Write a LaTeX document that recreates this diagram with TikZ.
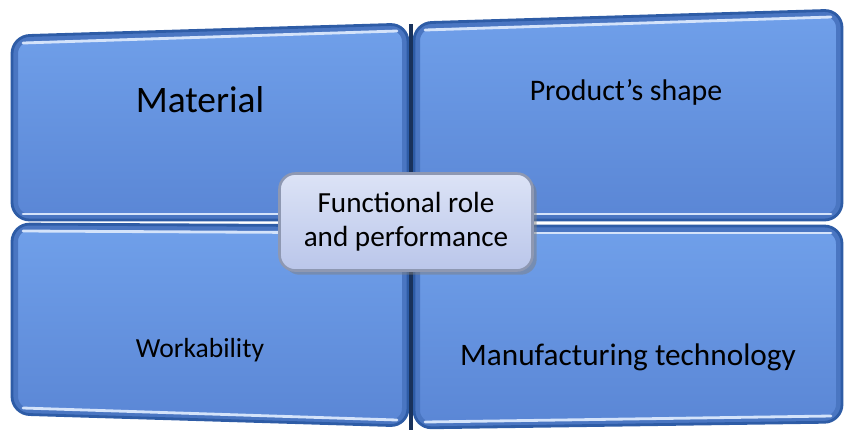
\documentclass[tikz,border=0pt]{standalone}
\usepackage{fontspec}
\setmainfont{Carlito}
\usetikzlibrary{calc,shadows}
\definecolor{boxlight}{HTML}{70A0EA}
\definecolor{boxdark}{HTML}{5A86D5}
\definecolor{boxband}{HTML}{4A76C2}
\definecolor{boxedge}{HTML}{2E5CA6}
\definecolor{boxshine}{HTML}{D4E3FA}
\definecolor{midlight}{HTML}{DCE3F6}
\definecolor{middark}{HTML}{BAC6EA}
\definecolor{midedge}{HTML}{8E98B2}
\tikzset{
	panel/.style={rounded corners=10pt, top color=boxlight, bottom color=boxdark},
	band/.style={draw=boxband, line width=12*0.02cm, rounded corners=10pt},
	rim/.style={draw=boxedge, line width=1.6pt, rounded corners=10pt},
	shine/.style={draw=boxshine, line width=1.6pt, line cap=round},
	lbl/.style={font=\fontsize{17}{20}\selectfont, text=black, align=center},
}
% one bevelled quarter: corners top left, top right, bottom right, bottom left
\newcommand{\quadpanel}[4]{
	\shade[panel] #1 -- #2 -- #3 -- #4 -- cycle;
	\begin{scope}
		\clip[rounded corners=10pt] #1 -- #2 -- #3 -- #4 -- cycle;
		\draw[band] #1 -- #2 -- #3 -- #4 -- cycle;
	\end{scope}
	\draw[shine] ($#1+(11,7)$) -- ($#2+(-11,7)$);
	\draw[shine] ($#4+(11,-6)$) -- ($#3+(-11,-6)$);
	\draw[rim] #1 -- #2 -- #3 -- #4 -- cycle;
}

\begin{document}
\begin{tikzpicture}[x=0.02cm,y=-0.02cm]
\useasboundingbox (0,0) rectangle (848,434);

% the four quarters
\quadpanel{(12,36)}{(408,24)}{(408,220)}{(12,220)}
\quadpanel{(414,23)}{(842,10)}{(842,220)}{(414,220)}
\quadpanel{(12,224)}{(408,226)}{(408,426)}{(12,414)}
\quadpanel{(414,226)}{(842,226)}{(842,422)}{(414,428)}
\draw[boxedge!55!black, line width=2.2pt] (411,24) -- (411,430);

% centre box
\node[draw=midedge, line width=1.5pt, rounded corners=9pt,
	top color=midlight, bottom color=middark, drop shadow,
	minimum width=253*0.02cm, minimum height=97*0.02cm, lbl,
	font=\fontsize{16.6}{19.5}\selectfont] (role) at (406,222)
	{Functional role\\and performance};

% labels
\node[lbl, font=\fontsize{21.3}{24}\selectfont] (material) at (200,100) {Material};
\node[lbl] (shape) at (626,92) {Product’s shape};
\node[lbl, font=\fontsize{15.7}{18}\selectfont] (work) at (200,350) {Workability};
\node[lbl, font=\fontsize{17.8}{20}\selectfont] (tech) at (628,357) {Manufacturing technology};
\end{tikzpicture}
\end{document}
